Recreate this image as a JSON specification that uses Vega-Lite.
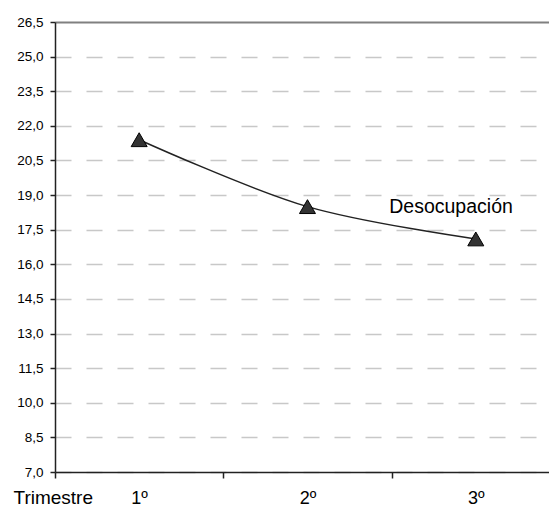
{
  "$schema": "https://vega.github.io/schema/vega-lite/v6.json",
  "width": 494,
  "height": 450,
  "autosize": {"type": "none"},
  "padding": {"left": 55, "top": 22, "right": 0, "bottom": 34},
  "background": "white",
  "config": {"view": {"stroke": null}, "font": "Liberation Sans"},
  "datasets": {
    "serie": [
      {"trimestre": 1, "desocupacion": 21.4},
      {"trimestre": 2, "desocupacion": 18.5},
      {"trimestre": 3, "desocupacion": 17.1}
    ],
    "etiqueta": [
      {"x": 2.853, "y": 18.48, "texto": "Desocupación"}
    ]
  },
  "layer": [
    {
      "data": {"name": "serie"},
      "mark": {"type": "line", "interpolate": "catmull-rom", "color": "#222222", "strokeWidth": 1.5},
      "encoding": {
        "x": {
          "field": "trimestre", "type": "quantitative",
          "scale": {"domain": [0.5, 3.435], "nice": false, "zero": false},
          "axis": {
            "values": [0.5, 1, 1.5, 2, 2.5, 3],
            "tickCount": 20,
            "labelExpr": "datum.value % 1 === 0 ? datum.value + 'º' : ''",
            "tickOpacity": {"condition": {"test": "datum.value % 1 === 0", "value": 0}, "value": 1},
            "tickSize": 6,
            "tickColor": "#222222",
            "tickWidth": 1.5,
            "grid": false,
            "domainColor": "#222222",
            "domainWidth": 1.5,
            "labelFontSize": 18,
            "labelColor": "#000000",
            "labelBaseline": "alphabetic",
            "labelPadding": 25,
            "labelFlush": false,
            "labelOverlap": false,
            "title": "Trimestre",
            "titleFontSize": 19,
            "titleFontWeight": "normal",
            "titleColor": "#000000",
            "titleAnchor": "start",
            "titleAlign": "left",
            "titleBaseline": "alphabetic",
            "titleX": -42,
            "titleY": 31
          }
        },
        "y": {
          "field": "desocupacion", "type": "quantitative",
          "scale": {"domain": [7, 26.5], "nice": false, "zero": false},
          "axis": {
            "values": [7, 8.5, 10, 11.5, 13, 14.5, 16, 17.5, 19, 20.5, 22, 23.5, 25, 26.5],
            "tickCount": 30,
            "labelExpr": "replace(format(datum.value, '.1f'), '.', ',')",
            "tickSize": 5,
            "tickColor": "#222222",
            "tickWidth": 1.5,
            "domainColor": "#222222",
            "domainWidth": 1.5,
            "labelFontSize": 13.5,
            "labelColor": "#000000",
            "labelPadding": 7,
            "labelOverlap": false,
            "grid": true,
            "gridColor": {"condition": {"test": "datum.value >= 26.5", "value": "#808080"}, "value": "#c8c8c8"},
            "gridDash": {"condition": {"test": "datum.value >= 26.5", "value": []}, "value": [16, 15]},
            "gridWidth": {"condition": {"test": "datum.value >= 26.5", "value": 2}, "value": 1.5},
            "title": null
          }
        }
      }
    },
    {
      "data": {"name": "serie"},
      "mark": {"type": "point", "shape": "triangle-up", "size": 256, "filled": true, "fill": "#333333", "stroke": "#000000", "strokeWidth": 1, "opacity": 1},
      "encoding": {
        "x": {"field": "trimestre", "type": "quantitative"},
        "y": {"field": "desocupacion", "type": "quantitative"}
      }
    },
    {
      "data": {"name": "etiqueta"},
      "mark": {"type": "text", "fontSize": 19.5, "font": "Liberation Sans", "color": "#000000", "align": "center", "baseline": "middle"},
      "encoding": {
        "x": {"field": "x", "type": "quantitative"},
        "y": {"field": "y", "type": "quantitative"},
        "text": {"field": "texto"}
      }
    }
  ]
}
